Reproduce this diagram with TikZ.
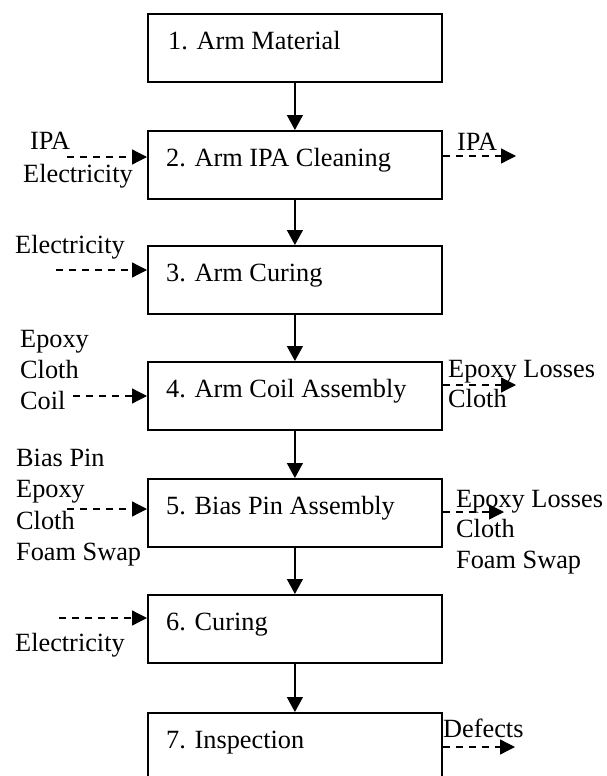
\documentclass[tikz,border=0pt]{standalone}
\usepackage{fontspec}
\setmainfont{Liberation Serif}
\usetikzlibrary{arrows.meta}
\begin{document}
\begin{tikzpicture}[x=1pt,y=-1pt,
  box/.style={draw, line width=1.8pt, minimum width=294pt, minimum height=68pt, inner sep=0pt, anchor=north west},
  lbl/.style={anchor=base west, inner sep=0pt, font=\fontsize{26.3}{31}\selectfont},
  flow/.style={line width=1.3pt, -{Triangle[width=16pt,length=15pt]}},
  side/.style={line width=1.3pt, dash pattern=on 7pt off 6pt, -{Triangle[width=15pt,length=15pt]}}]
\useasboundingbox (0,0) rectangle (606,776);
\clip (0,0) rectangle (606,776);
% boxes
\node[box] (b1) at (147,13) {};
\node[box] (b2) at (147,130) {};
\node[box] (b3) at (147,245) {};
\node[box] (b4) at (147,361) {};
\node[box] (b5) at (147,478) {};
\node[box] (b6) at (147,594) {};
\node[box, minimum height=80pt] (b7) at (147,712) {};
% box texts
\node[lbl] (t1) at (168,49) {1. Arm Material};
\node[lbl] (t2) at (166,166) {2. Arm IPA Cleaning};
\node[lbl] (t3) at (166,281) {3. Arm Curing};
\node[lbl] (t4) at (166,397) {4. Arm Coil Assembly};
\node[lbl] (t5) at (166,514) {5. Bias Pin Assembly};
\node[lbl] (t6) at (166,630) {6. Curing};
\node[lbl] (t7) at (166,748) {7. Inspection};
% main flow
\draw[flow] (b1.south) -- (b2.north);
\draw[flow] (b2.south) -- (b3.north);
\draw[flow] (b3.south) -- (b4.north);
\draw[flow] (b4.south) -- (b5.north);
\draw[flow] (b5.south) -- (b6.north);
\draw[flow] (b6.south) -- (b7.north);
% inputs
\coordinate (i2) at (67,157);
\coordinate (i3) at (56,270);
\coordinate (i4) at (73,396);
\coordinate (i5) at (67,509);
\coordinate (i6) at (59,618);
\draw[side] (i2) -- (i2 -| b2.west);
\draw[side] (i3) -- (i3 -| b3.west);
\draw[side] (i4) -- (i4 -| b4.west);
\draw[side] (i5) -- (i5 -| b5.west);
\draw[side] (i6) -- (i6 -| b6.west);
% outputs
\coordinate (o2) at (516,156);
\coordinate (o4) at (516,385);
\coordinate (o5) at (504,512);
\coordinate (o7) at (515,747);
\draw[side] (o2 -| b2.east) -- (o2);
\draw[side] (o4 -| b4.east) -- (o4);
\draw[side] (o5 -| b5.east) -- (o5);
\draw[side] (o7 -| b7.east) -- (o7);
% input labels
\node[lbl] (l2a) at (30,149) {IPA};
\node[lbl] (l2b) at (23,182) {Electricity};
\node[lbl] (l3a) at (15,253) {Electricity};
\node[lbl] (l4a) at (20,347) {Epoxy};
\node[lbl] (l4b) at (20,378) {Cloth};
\node[lbl] (l4c) at (20,409) {Coil};
\node[lbl] (l5a) at (16,466) {Bias Pin};
\node[lbl] (l5b) at (16,497) {Epoxy};
\node[lbl] (l5c) at (16,529) {Cloth};
\node[lbl] (l5d) at (16,560) {Foam Swap};
\node[lbl] (l6a) at (15,651) {Electricity};
% output labels
\node[lbl] (r2a) at (457,150) {IPA};
\node[lbl] (r4a) at (448,377) {Epoxy Losses};
\node[lbl] (r4b) at (448,407) {Cloth};
\node[lbl] (r5a) at (456,507) {Epoxy Losses};
\node[lbl] (r5b) at (456,537) {Cloth};
\node[lbl] (r5c) at (456,568) {Foam Swap};
\node[lbl] (r7a) at (443,737) {Defects};
\end{tikzpicture}
\end{document}
